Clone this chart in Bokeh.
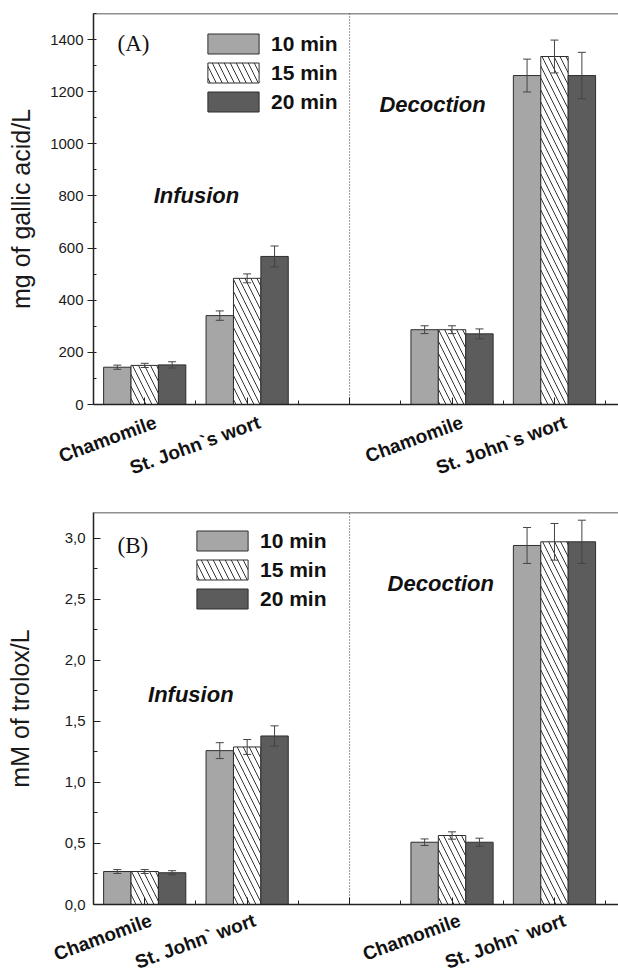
import numpy as np
from bokeh.plotting import figure
from bokeh.models import (ColumnDataSource, Range1d, FixedTicker, SingleIntervalTicker,
                          Whisker, TeeHead, Span, Label, Legend, LegendItem, LinearAxis,
                          CustomJSTickFormatter)
from bokeh.layouts import column
from bokeh.embed import file_html
from bokeh.resources import INLINE

# ---------------- data ----------------
series = ["10 min", "15 min", "20 min"]
group_pos = [1, 3, 7, 9]          # Chamomile / St. John's wort (infusion), same (decoction)
divider_pos = 5
labels_a = ["Chamomile", "St. John`s wort", "Chamomile", "St. John`s wort"]
labels_b = ["Chamomile", "St. John` wort", "Chamomile", "St. John` wort"]

gallic_10 = [143, 341, 287, 1262]
gallic_15 = [150, 484, 287, 1335]
gallic_20 = [152, 568, 271, 1262]
gallic_err_10 = [8, 18, 15, 63]
gallic_err_15 = [8, 17, 15, 63]
gallic_err_20 = [12, 40, 19, 89]

trolox_10 = [0.27, 1.26, 0.51, 2.94]
trolox_15 = [0.27, 1.29, 0.565, 2.97]
trolox_20 = [0.26, 1.38, 0.51, 2.97]
trolox_err_10 = [0.016, 0.065, 0.027, 0.147]
trolox_err_15 = [0.016, 0.061, 0.030, 0.150]
trolox_err_20 = [0.017, 0.083, 0.033, 0.177]

FONT = "Liberation Sans"
LIGHT = "#a6a6a6"
DARK = "#5c5c5c"
EDGE = "#2e2e2e"
BAR_W = 0.535
OFFSETS = [-BAR_W, 0.0, BAR_W]


def make_panel(vals, errs, ymax, ylabel, tag, cat_labels, cat_shift, cat_standoff,
               tag_xy, inf_xy, dec_xy, legend_loc, height, top, bottom,
               tick_cfg, ylabel_standoff, y_interval, formatter=None):
    p = figure(width=618, height=height, x_range=Range1d(0, 10.25),
               y_range=Range1d(0, ymax),
               output_backend="svg", toolbar_location=None,
               min_border_left=93, min_border_right=0, min_border_top=top,
               min_border_bottom=bottom, background_fill_color="white",
               border_fill_color="white")
    p.outline_line_color = None
    p.grid.visible = False

    styles = [dict(fill_color=LIGHT),
              dict(fill_color="white", hatch_pattern="\\", hatch_color="#333333",
                   hatch_weight=1, hatch_scale=12),
              dict(fill_color=DARK)]
    items = []
    for k in range(3):
        x = np.array(group_pos, dtype=float) + OFFSETS[k]
        v = np.array(vals[k], dtype=float)
        e = np.array(errs[k], dtype=float)
        src = ColumnDataSource(dict(x=x, top=v, lower=v - e, upper=v + e))
        r = p.vbar(x="x", top="top", bottom=0, width=BAR_W, source=src, line_color=EDGE,
                   line_width=1, **styles[k])
        items.append(LegendItem(label=series[k], renderers=[r]))
        wh = Whisker(source=src, base="x", lower="lower", upper="upper",
                     line_color="#444444", line_width=1, level="overlay",
                     upper_head=TeeHead(size=8, line_color="#444444", line_width=1),
                     lower_head=TeeHead(size=8, line_color="#444444", line_width=1))
        p.add_layout(wh)

    # frame top line and dotted divider
    p.add_layout(Span(location=ymax, dimension="width", line_color="#222222", line_width=1.5))
    p.segment(x0=[divider_pos], y0=[0], x1=[divider_pos], y1=[ymax],
              line_color="#333333", line_width=1, line_dash="1 2")

    # x axis: ticks only
    xa = p.xaxis[0]
    xa.ticker = FixedTicker(ticks=[1, 3, 5, 7, 9], minor_ticks=[2, 4, 6, 8, 10])
    xa.formatter = CustomJSTickFormatter(code="return '';")
    xa.major_label_text_font_size = "0px"
    xa.major_label_standoff = 0
    xa.major_tick_in = 7
    xa.major_tick_out = 0
    xa.minor_tick_in = 4
    xa.minor_tick_out = 0
    xa.axis_line_width = 1.5
    xa.axis_line_color = "#222222"
    xa.major_tick_line_color = "#222222"
    xa.minor_tick_line_color = "#222222"

    # second x axis: rotated category names
    anchors = [g + s for g, s in zip(group_pos, cat_shift)]
    la = LinearAxis(ticker=FixedTicker(ticks=anchors, minor_ticks=[]),
                    formatter=CustomJSTickFormatter(args=dict(labels=cat_labels),
                                                    code="return labels[index];"),
                    axis_line_color=None, major_tick_line_color=None,
                    minor_tick_line_color=None, major_tick_in=0, major_tick_out=0,
                    minor_tick_in=0, minor_tick_out=0,
                    major_label_standoff=cat_standoff,
                    major_label_orientation=float(np.radians(20)),
                    major_label_text_font=FONT, major_label_text_font_style="bold",
                    major_label_text_font_size="19px", major_label_text_color="#111111")
    p.add_layout(la, "below")

    ya = p.yaxis[0]
    ya.ticker = SingleIntervalTicker(interval=y_interval, num_minor_ticks=2)
    if formatter is not None:
        ya.formatter = formatter
    ya.major_tick_in = tick_cfg[0]
    ya.major_tick_out = tick_cfg[1]
    ya.minor_tick_in = tick_cfg[2]
    ya.minor_tick_out = tick_cfg[3]
    ya.major_label_standoff = tick_cfg[4]
    ya.axis_line_width = 1.5
    ya.axis_line_color = "#222222"
    ya.major_tick_line_color = "#222222"
    ya.minor_tick_line_color = "#222222"
    ya.major_label_text_font = FONT
    ya.major_label_text_font_size = "15px"
    ya.major_label_text_color = "#1a1a1a"
    ya.axis_label = ylabel
    ya.axis_label_text_font = FONT
    ya.axis_label_text_font_style = "normal"
    ya.axis_label_text_font_size = "25px"
    ya.axis_label_text_color = "#1a1a1a"
    ya.axis_label_standoff = ylabel_standoff

    p.add_layout(Label(x=tag_xy[0], y=tag_xy[1], text=tag, text_font="Liberation Serif",
                       text_font_size="23px", text_align="left", text_baseline="middle",
                       text_color="#111111"))
    p.add_layout(Label(x=inf_xy[0], y=inf_xy[1], text="Infusion", text_font=FONT,
                       text_font_style="bold italic", text_font_size="22px",
                       text_align="center", text_baseline="middle", text_color="#111111"))
    p.add_layout(Label(x=dec_xy[0], y=dec_xy[1], text="Decoction", text_font=FONT,
                       text_font_style="bold italic", text_font_size="22px",
                       text_align="center", text_baseline="middle", text_color="#111111"))

    leg = Legend(items=items, location=legend_loc, orientation="vertical",
                 glyph_width=64, glyph_height=25, label_height=25, label_standoff=6,
                 spacing=4, padding=0, margin=0, border_line_color=None,
                 background_fill_alpha=0, label_text_font=FONT,
                 label_text_font_style="bold", label_text_font_size="21px",
                 label_text_color="#111111")
    p.add_layout(leg)
    return p


p1 = make_panel([gallic_10, gallic_15, gallic_20], [gallic_err_10, gallic_err_15, gallic_err_20],
                1500, "mg of gallic acid/L", "(A)", labels_a,
                [0.215, 0.24, 0.2, 0.22], 17,
                (0.47, 1385), (2.01, 802), (6.62, 1151), (108, 290), 496, 13, 92,
                (0, 6, 3, 0, 4), 12, 200)

fmt = CustomJSTickFormatter(code="return tick.toFixed(1).replace('.', ',');")
p2 = make_panel([trolox_10, trolox_15, trolox_20], [trolox_err_10, trolox_err_15, trolox_err_20],
                3.21, "mM of trolox/L", "(B)", labels_b,
                [0.12, 0.15, 0.15, 0.2], 15,
                (0.47, 2.94), (1.90, 1.72), (6.78, 2.63), (97, 293), 498, 16, 90,
                (7, 0, 4, 0, 8), 28, 0.5, fmt)

layout = column(p1, p2, spacing=0)
open("out.html", "w").write(file_html(layout, INLINE))
